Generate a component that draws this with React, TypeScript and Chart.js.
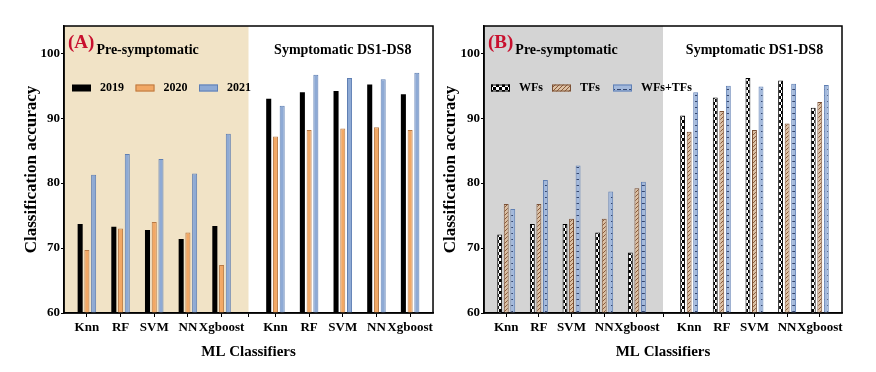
import React, { useEffect, useRef } from "react";
import { Chart, registerables } from "chart.js";

Chart.register(...registerables);
Chart.defaults.color = "#000";

// ---------- data ----------
const classifiers = ["Knn", "RF", "SVM", "NN", "Xgboost"];
const categories = [...classifiers, ...classifiers];
const regionLabels = ["Pre-symptomatic", "Symptomatic DS1-DS8"];
const yTicks = [60, 70, 80, 90, 100];

const yearLabels = ["2019", "2020", "2021"];
const acc2019 = [73.7, 73.3, 72.8, 71.4, 73.4, 93.0, 94.0, 94.2, 95.2, 93.7];
const acc2020 = [69.7, 73.0, 74.0, 72.4, 67.4, 87.2, 88.2, 88.4, 88.6, 88.2];
const acc2021 = [81.3, 84.5, 83.7, 81.5, 87.6, 91.9, 96.7, 96.2, 96.0, 97.0];

const featureLabels = ["WFs", "TFs", "WFs+TFs"];
const accWFs = [72.1, 73.7, 73.7, 72.4, 69.3, 90.4, 93.2, 96.2, 95.8, 91.6];
const accTFs = [76.8, 76.8, 74.5, 74.5, 79.2, 87.9, 91.1, 88.2, 89.2, 92.5];
const accBoth = [76.0, 80.5, 82.7, 78.7, 80.2, 94.0, 95.0, 94.9, 95.3, 95.1];

// ---------- layout helpers ----------
const GROUP_GAP = 0.6; // extra spacing between the two regions (axis units)
const SEP = 4 + (1 + GROUP_GAP) / 2; // separator position
const X_MIN = -0.68;
const X_MAX = 9 + GROUP_GAP + 0.68;
const FONT = '"Liberation Serif", "Times New Roman", serif';

const catPos = categories.map((_, i) => (i < 5 ? i : i + GROUP_GAP));

function makePattern(kind: string): CanvasPattern | string {
  const c = document.createElement("canvas");
  const g = c.getContext("2d");
  if (!g) return "#888";
  if (kind === "checker") {
    c.width = 6;
    c.height = 6;
    g.fillStyle = "#ffffff";
    g.fillRect(0, 0, 6, 6);
    g.fillStyle = "#000000";
    g.fillRect(0, 0, 3, 3);
    g.fillRect(3, 3, 3, 3);
  } else if (kind === "hatch") {
    c.width = 4;
    c.height = 4;
    g.fillStyle = "#dcc1a4";
    g.fillRect(0, 0, 4, 4);
    g.strokeStyle = "#8a5a3a";
    g.lineWidth = 1;
    g.beginPath();
    g.moveTo(0, 4);
    g.lineTo(4, 0);
    g.moveTo(-1, 1);
    g.lineTo(1, -1);
    g.moveTo(3, 5);
    g.lineTo(5, 3);
    g.stroke();
  } else {
    c.width = 6;
    c.height = 6;
    g.fillStyle = "#a3b9dc";
    g.fillRect(0, 0, 6, 6);
    g.fillStyle = "#34466e";
    g.fillRect(1, 5, 4, 1);
  }
  return g.createPattern(c, "repeat") || "#888";
}

const decorPlugin = {
  id: "panelDecor",
  beforeDraw(chart: any, _args: any, opts: any) {
    const { ctx, chartArea } = chart;
    const x = chart.scales.x;
    const sep = x.getPixelForValue(SEP);
    ctx.save();
    ctx.fillStyle = opts.shade;
    ctx.fillRect(chartArea.left, chartArea.top, sep - chartArea.left, chartArea.bottom - chartArea.top);
    ctx.restore();
  },
  afterDraw(chart: any, _args: any, opts: any) {
    const { ctx, chartArea } = chart;
    const x = chart.scales.x;
    const sep = x.getPixelForValue(SEP);
    ctx.save();
    // frame
    ctx.strokeStyle = "#000";
    ctx.lineWidth = 1.5;
    ctx.strokeRect(chartArea.left, chartArea.top, chartArea.right - chartArea.left, chartArea.bottom - chartArea.top);
    // panel letter
    ctx.textBaseline = "middle";
    ctx.textAlign = "left";
    ctx.fillStyle = "#c8102e";
    ctx.font = `bold 19px ${FONT}`;
    ctx.fillText(opts.letter, chartArea.left + 4, chartArea.top + 17);
    const lw = ctx.measureText(opts.letter).width;
    ctx.fillStyle = "#000";
    ctx.font = `bold 14px ${FONT}`;
    ctx.fillText(regionLabels[0], chartArea.left + 6 + lw, chartArea.top + 24);
    ctx.textAlign = "center";
    ctx.fillText(regionLabels[1], (sep + chartArea.right) / 2 + 2, chartArea.top + 24);
    // legend
    ctx.textAlign = "left";
    ctx.font = `bold 12px ${FONT}`;
    chart.data.datasets.forEach((ds: any, i: number) => {
      const sx = chartArea.left + opts.legendStart + i * opts.legendStep;
      const sy = chartArea.top + 62;
      ctx.fillStyle = ds.backgroundColor;
      ctx.fillRect(sx, sy - 3.5, 19, 7);
      if (ds.borderWidth) {
        ctx.strokeStyle = ds.borderColor;
        ctx.lineWidth = 1;
        ctx.strokeRect(sx + 0.5, sy - 3, 18, 6);
      }
      ctx.fillStyle = "#000";
      ctx.fillText(ds.label, sx + 28, sy);
    });
    ctx.restore();
  },
};

type SeriesDef = { label: string; values: number[]; bg: any; border: string; bw: number };

function Panel(props: {
  left: number;
  width: number;
  yWidth: number;
  padRight: number;
  titlePad: number;
  letter: string;
  shade: string;
  legendStart: number;
  legendStep: number;
  series: () => SeriesDef[];
}) {
  const ref = useRef<HTMLCanvasElement>(null);
  useEffect(() => {
    if (!ref.current) return;
    const series = props.series();
    const tickVals = [...catPos.slice(0, 5), SEP, ...catPos.slice(5)];
    const chart = new Chart(ref.current, {
      type: "bar",
      data: {
        datasets: series.map((s) => ({
          label: s.label,
          data: s.values.map((v, i) => ({ x: catPos[i], y: v })),
          backgroundColor: s.bg,
          borderColor: s.border,
          borderWidth: s.bw,
          categoryPercentage: 0.75,
          barPercentage: 0.75,
        })),
      },
      options: {
        responsive: false,
        animation: false,
        layout: { padding: { left: 0, right: props.padRight, top: 26, bottom: 0 } },
        plugins: {
          legend: { display: false },
          tooltip: { enabled: false },
          panelDecor: {
            letter: props.letter,
            shade: props.shade,
            legendStart: props.legendStart,
            legendStep: props.legendStep,
          },
        } as any,
        scales: {
          x: {
            type: "linear",
            min: X_MIN,
            max: X_MAX,
            offset: false,
            afterBuildTicks: (scale: any) => {
              scale.ticks = tickVals.map((v) => ({ value: v }));
            },
            afterFit: (scale: any) => {
              scale.height = 59;
            },
            ticks: {
              autoSkip: false,
              maxRotation: 0,
              padding: 3,
              font: { family: FONT, size: 13, weight: "bold" },
              callback: (value: any) => {
                const idx = catPos.findIndex((p) => Math.abs(p - Number(value)) < 1e-6);
                return idx >= 0 ? categories[idx] : "";
              },
            },
            grid: { display: true, offset: false, drawOnChartArea: false, drawTicks: true, tickLength: 4, color: "#000", lineWidth: 1 },
            border: { display: true, color: "#000", width: 1.5 },
            title: {
              display: true,
              text: "ML Classifiers",
              font: { family: FONT, size: 15, weight: "bold" },
              padding: { top: 0, bottom: 11 },
            },
          },
          y: {
            min: 60,
            max: 104.2,
            afterBuildTicks: (scale: any) => {
              scale.ticks = yTicks.map((v) => ({ value: v }));
            },
            afterFit: (scale: any) => {
              scale.width = props.yWidth;
            },
            ticks: {
              padding: 1,
              font: { family: FONT, size: 13, weight: "bold" },
            },
            grid: { display: true, drawOnChartArea: false, drawTicks: true, tickLength: 3, color: "#000", lineWidth: 1 },
            border: { display: true, color: "#000", width: 1.5 },
            title: {
              display: true,
              text: "Classification accuracy",
              font: { family: FONT, size: 17, weight: "bold" },
              padding: { top: props.titlePad, bottom: 0 },
            },
          },
        },
      },
      plugins: [decorPlugin as any],
    });
    return () => chart.destroy();
  }, []);
  return (
    <canvas
      ref={ref}
      width={props.width}
      height={372}
      style={{ position: "absolute", left: props.left, top: 0, width: props.width, height: 372 }}
    />
  );
}

export default function App() {
  return (
    <div style={{ position: "absolute", left: 0, top: 0, width: 876, height: 372, background: "#fff" }}>
      <Panel
        left={0}
        width={436}
        yWidth={64}
        padRight={2}
        titlePad={21.5}
        letter="(A)"
        shade="#f1e3c6"
        legendStart={8}
        legendStep={63.5}
        series={() => [
          { label: yearLabels[0], values: acc2019, bg: "#000000", border: "#000000", bw: 0 },
          { label: yearLabels[1], values: acc2020, bg: "#f2a865", border: "#b97a45", bw: 1 },
          { label: yearLabels[2], values: acc2021, bg: "#8eaad5", border: "#5f7fb3", bw: 1 },
        ]}
      />
      <Panel
        left={436}
        width={440}
        yWidth={48}
        padRight={34}
        titlePad={4.8}
        letter="(B)"
        shade="#d4d4d4"
        legendStart={7}
        legendStep={61}
        series={() => [
          { label: featureLabels[0], values: accWFs, bg: makePattern("checker"), border: "#000000", bw: 1 },
          { label: featureLabels[1], values: accTFs, bg: makePattern("hatch"), border: "#7a5035", bw: 1 },
          { label: featureLabels[2], values: accBoth, bg: makePattern("lines"), border: "#5f7fb3", bw: 1 },
        ]}
      />
    </div>
  );
}
